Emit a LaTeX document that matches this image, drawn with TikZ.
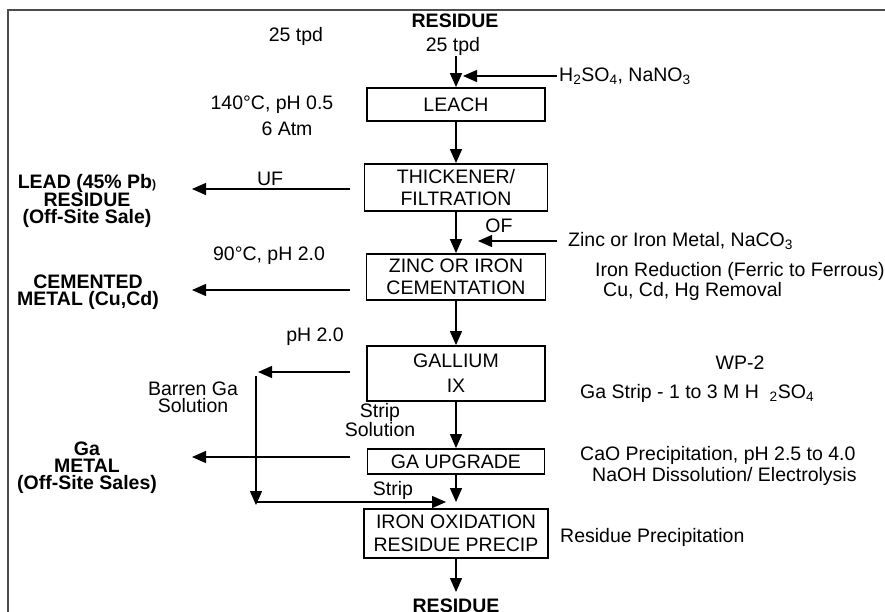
\documentclass[tikz,border=0pt]{standalone}
\usepackage{fontspec}
\setmainfont{Liberation Sans}
\usetikzlibrary{arrows.meta}
\begin{document}
\begin{tikzpicture}[x=1pt,y=-1pt,
  every node/.style={font=\fontsize{19.5}{21}\selectfont, inner sep=0pt},
  box/.style={draw, line width=1.8pt, align=center, font=\fontsize{19.5}{22.5}\selectfont},
  bl/.style={align=center, font=\bfseries\fontsize{19.5}{17}\selectfont},
  sm/.style={align=center, font=\fontsize{19.5}{17}\selectfont},
  arr/.style={-{Triangle[length=14pt,width=12pt]}, line width=1.4pt},
  frameline/.style={draw=black!70, line width=2pt}]
\useasboundingbox (0,0) rectangle (885,612);
\draw[frameline] (8,612) -- (8,10) -- (885,10);

% top
\node[bl] (resTop) at (455,21) {RESIDUE};
\node (tpd1) at (453,46) {25 tpd};
\node (tpd0) at (296,36) {25 tpd};
\node[box, minimum width=178pt, minimum height=33pt] (leach) at (456,104.5) {LEACH};
\coordinate (inTop) at (456,56);
\draw[arr] (inTop) -- (leach.north);
\node[anchor=west] (acid) at (559,76) {H\textsubscript{2}SO\textsubscript{4}, NaNO\textsubscript{3}};
\coordinate (acidS) at (557,76);
\coordinate (acidT) at (463,76);
\draw[arr] (acidS) -- (acidT);
\node (cond1) at (272,105) {140°C, pH 0.5};
\node (cond2) at (287,129) {6 Atm};

% thickener
\node[box, minimum width=183pt, minimum height=47pt] (thick) at (456,187.5) {THICKENER/\\FILTRATION};
\draw[arr] (leach.south) -- (thick.north);
\coordinate (ufS) at (350,189);
\coordinate (ufT) at (192,189);
\draw[arr] (ufS) -- (ufT);
\node (uf) at (270,179) {UF};
\node[bl] (lead) at (87,201) {LEAD (45\% Pb{\fontsize{12}{12}\selectfont )}\\RESIDUE\\(Off-Site Sale)};

% zinc
\node[box, minimum width=179pt, minimum height=46pt] (zinc) at (456,277) {ZINC OR IRON\\CEMENTATION};
\draw[arr] (thick.south) -- (zinc.north);
\node (of) at (499,226) {OF};
\node[anchor=west] (znin) at (568,241) {Zinc or Iron Metal, NaCO\textsubscript{3}};
\coordinate (znS) at (557,241);
\coordinate (znT) at (478,241);
\draw[arr] (znS) -- (znT);
\node (cond3) at (269,256) {90°C, pH 2.0};
\coordinate (cmS) at (350,290);
\coordinate (cmT) at (192,290);
\draw[arr] (cmS) -- (cmT);
\node[bl] (cem) at (88,292) {CEMENTED\\METAL (Cu,Cd)};
\node[anchor=west] (ired) at (595,271) {Iron Reduction (Ferric to Ferrous)};
\node[anchor=west] (cucd) at (603,291) {Cu, Cd, Hg Removal};

% gallium
\node[box, minimum width=178pt, minimum height=55pt, font=\fontsize{19.5}{25}\selectfont] (gall) at (456,373.5) {GALLIUM\\IX};
\draw[arr] (zinc.south) -- (gall.north);
\node (ph2) at (315,337) {pH 2.0};
\coordinate (brS) at (350,372);
\coordinate (brT) at (258,372);
\draw[arr] (brS) -- (brT);
\coordinate (vTop) at (256,376);
\coordinate (vBot) at (256,505);
\draw[arr] (vTop) -- (vBot);
\node[sm] (barren) at (193,397) {Barren Ga\\Solution};
\node[sm] (strip) at (380,420) {Strip\\Solution};
\node (wp) at (740,363) {WP-2};
\node[anchor=west] (gastrip) at (580,393) {Ga Strip - 1 to 3 M H\hspace{0.55em}\textsubscript{2}SO\textsubscript{4}};

% ga upgrade
\node[box, minimum width=177pt, minimum height=25pt] (gaup) at (456,461.5) {GA UPGRADE};
\draw[arr] (gall.south) -- (gaup.north);
\coordinate (gmS) at (350,457);
\coordinate (gmT) at (192,457);
\draw[arr] (gmS) -- (gmT);
\node[bl] (gam) at (87,468) {Ga\\METAL\\(Off-Site Sales)};
\node[anchor=west] (cao) at (580,455) {CaO Precipitation, pH 2.5 to 4.0};
\node[anchor=west] (naoh) at (592,476) {NaOH Dissolution/ Electrolysis};
\coordinate (upT) at (456,502);
\draw[arr] (gaup.south) -- (upT);
\coordinate (hS) at (256,502);
\coordinate (hT) at (446,502);
\draw[arr] (hS) -- (hT);
\node (strip2) at (393,490) {Strip};

% iron oxidation
\node[box, minimum width=184pt, minimum height=49pt] (iron) at (456,533.5) {IRON OXIDATION\\RESIDUE PRECIP};
\node[anchor=west] (rp) at (560,537) {Residue Precipitation};
\coordinate (botT) at (456,592);
\draw[arr] (iron.south) -- (botT);
\node[bl] (resBot) at (456,606) {RESIDUE};
\end{tikzpicture}
\end{document}
